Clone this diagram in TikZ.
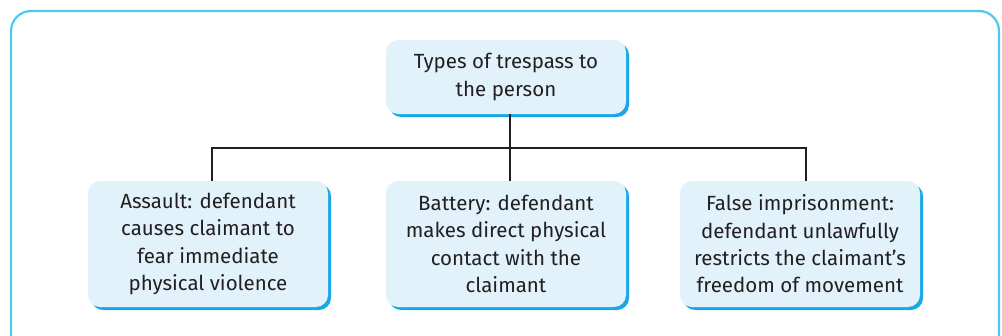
\documentclass[tikz,border=0pt]{standalone}
\usepackage{fontspec}
\setmainfont{Fira Sans}
\definecolor{frame}{HTML}{4CC9F0}
\definecolor{boxfill}{HTML}{E1F2FA}
\definecolor{shadow}{HTML}{1AA7E6}
\definecolor{txt}{HTML}{231F20}
\begin{document}
\begin{tikzpicture}[x=1pt,y=-1pt,
  tbox/.style={fill=boxfill, rounded corners=12pt, minimum width=240pt, align=center,
    text=txt, font=\fontsize{20.5}{27.3}\selectfont, inner sep=0pt,
    preaction={fill=shadow, transform canvas={shift={(3pt,-3pt)}}}},
  link/.style={draw=txt, line width=2.3pt}]
\useasboundingbox (0,0) rectangle (1002,335);
\draw[frame, line width=2.2pt, rounded corners=20pt] (11,360) -- (11,11) -- (999,11) -- (999,360);
\node[tbox, minimum height=74pt] (top) at (506,77) {Types of trespass to\\the person};
\node[tbox, minimum height=126pt] (a) at (208,244) {Assault: defendant\\causes claimant to\\fear immediate\\physical violence};
\node[tbox, minimum height=126pt] (b) at (506,244) {Battery: defendant\\makes direct physical\\contact with the\\claimant};
\node[tbox, minimum height=126pt] (c) at (800,244) {False imprisonment:\\defendant unlawfully\\restricts the claimant’s\\freedom of movement};
\coordinate (j) at (510,148);
\draw[link] (top.south -| j) -- (j);
\draw[link] (a.north -| 212,0) |- (j) -| (c.north -| 806,0);
\draw[link] (j) -- (b.north -| j);
\end{tikzpicture}
\end{document}
